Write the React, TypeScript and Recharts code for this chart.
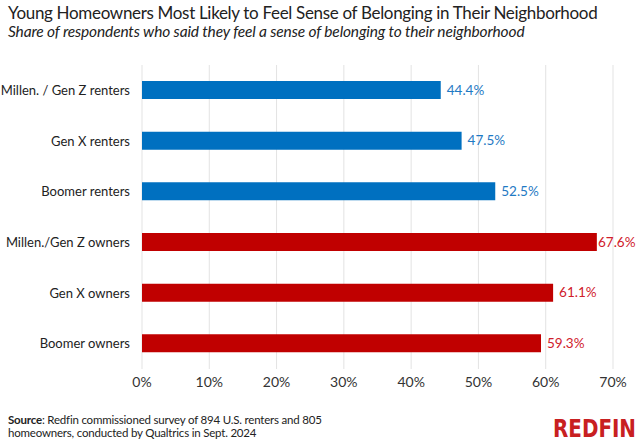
import { Bar, BarChart, CartesianGrid, Cell, LabelList, XAxis, YAxis } from 'recharts';

const groups = [
  'Millen. / Gen Z renters',
  'Gen X renters',
  'Boomer renters',
  'Millen./Gen Z owners',
  'Gen X owners',
  'Boomer owners',
];
const belongingShare = [44.4, 47.5, 52.5, 67.6, 61.1, 59.3];
const tenure = ['renter', 'renter', 'renter', 'owner', 'owner', 'owner'];
const xTicks = [0, 10, 20, 30, 40, 50, 60, 70];

const BAR_COLOR: Record<string, string> = { renter: '#0070C0', owner: '#C00000' };
const LABEL_COLOR: Record<string, string> = { renter: '#1F7AC4', owner: '#D0202B' };

const W = 640;
const H = 444;
const FONT = 'Lato, "Noto Sans", sans-serif';

const rows = groups.map((name, i) => ({ name, value: belongingShare[i], kind: tenure[i] }));

// value label to the right of each bar, pulled in when it would run off the edge
function ValueLabel(props: any) {
  const { x, y, width, height, value, index } = props;
  const kind = rows[index]?.kind ?? 'renter';
  const tx = Math.min(x + width + 6, W - 42);
  return (
    <text
      x={tx}
      y={y + height / 2}
      dy="0.35em"
      fill={LABEL_COLOR[kind]}
      fontSize={13.5}
      fontFamily={FONT}
    >
      {`${Number(value).toFixed(1)}%`}
    </text>
  );
}

// single-line category label, right-aligned against the plot
function GroupTick(props: any) {
  const { x, y, payload } = props;
  return (
    <text x={x} y={y} dy="0.35em" textAnchor="end" fill="#222" fontSize={13} fontFamily={FONT}>
      {payload.value}
    </text>
  );
}

export default function App() {
  return (
    <div
      style={{
        position: 'absolute',
        left: 0,
        top: 0,
        width: W,
        height: H,
        background: '#fff',
        fontFamily: FONT,
        color: '#222',
      }}
    >
      <div
        style={{
          position: 'absolute',
          left: 8,
          top: 3,
          fontSize: 17,
          lineHeight: '19px',
          letterSpacing: -0.32,
          whiteSpace: 'nowrap',
        }}
      >
        Young Homeowners Most Likely to Feel Sense of Belonging in Their Neighborhood
      </div>
      <div
        style={{
          position: 'absolute',
          left: 8,
          top: 22,
          fontSize: 15.5,
          lineHeight: '18px',
          letterSpacing: -0.15,
          fontStyle: 'italic',
          whiteSpace: 'nowrap',
        }}
      >
        Share of respondents who said they feel a sense of belonging to their neighborhood
      </div>

      <BarChart
        width={W}
        height={H}
        data={rows}
        layout="vertical"
        margin={{ top: 65, right: 27, bottom: 45, left: 0 }}
        barSize={18}
        style={{ position: 'absolute', left: 0, top: 0 }}
      >
        <CartesianGrid horizontal={false} stroke="#E3E3E3" />
        <XAxis
          type="number"
          domain={[0, 70]}
          ticks={xTicks}
          tickFormatter={(v) => `${v}%`}
          axisLine={false}
          tickLine={false}
          height={30}
          tick={{ fill: '#333', fontSize: 14, fontFamily: FONT }}
        />
        <YAxis
          type="category"
          dataKey="name"
          width={142}
          axisLine={false}
          tickLine={false}
          tickMargin={6}
          tick={<GroupTick />}
        />
        <Bar dataKey="value" isAnimationActive={false}>
          {rows.map((r) => (
            <Cell key={r.name} fill={BAR_COLOR[r.kind]} />
          ))}
          <LabelList dataKey="value" content={ValueLabel} />
        </Bar>
      </BarChart>

      <div
        style={{
          position: 'absolute',
          left: 8,
          top: 413,
          fontSize: 11.5,
          lineHeight: '13px',
          letterSpacing: -0.2,
          whiteSpace: 'nowrap',
          color: '#222',
        }}
      >
        <b>Source</b>: Redfin commissioned survey of 894 U.S. renters and 805
        <br />
        homeowners, conducted by Qualtrics in Sept. 2024
      </div>

      <svg width={92} height={36} style={{ position: 'absolute', left: 548, top: 408 }}>
        <text
          x={5}
          y={29}
          fill="#C82021"
          fontSize={24}
          fontWeight={700}
          fontFamily={'"Liberation Sans Narrow", "DejaVu Sans Condensed", sans-serif'}
          textLength={83}
          lengthAdjust="spacingAndGlyphs"
        >
          REDFIN
        </text>
      </svg>
    </div>
  );
}
